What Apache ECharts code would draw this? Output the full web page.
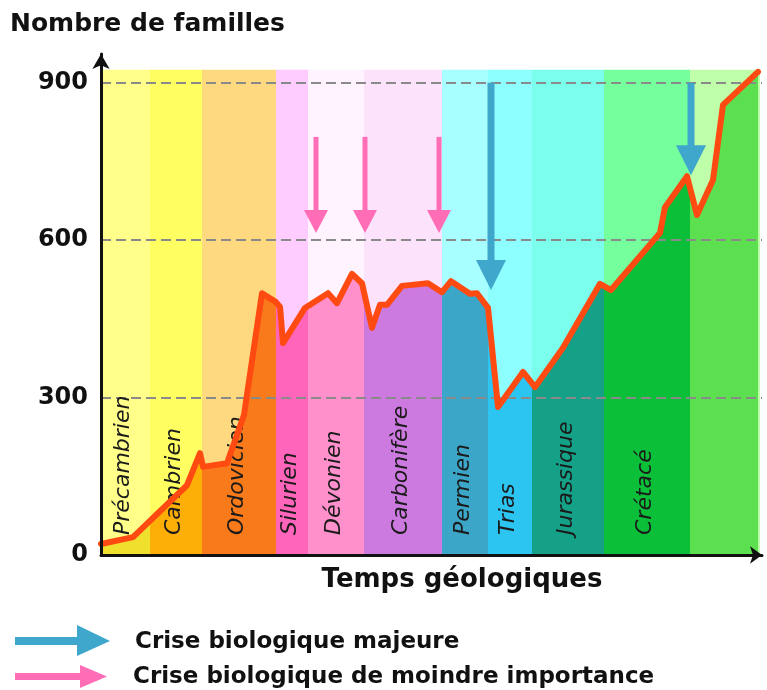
<!DOCTYPE html>
<html><head><meta charset="utf-8">
<script src="https://cdn.jsdelivr.net/npm/echarts@6/dist/echarts.min.js"></script>
<style>html,body{margin:0;padding:0;background:#fff}#c{width:767px;height:690px}</style>
</head><body><div id="c"></div>
<script>
// ---- data ----
const periods = ['Précambrien','Cambrien','Ordovicien','Silurien','Dévonien','Carbonifère','Permien','Trias','Jurassique','Crétacé',''];
const periodStart = [0, 49, 101, 175, 207, 263, 341, 387, 431, 503, 589];
const periodEnd   = [49, 101, 175, 207, 263, 341, 387, 431, 503, 589, 659];
const upperColors = ['#FFFF8A','#FFFF62','#FFD97F','#FFCCFF','#FEF3FE','#FDE2FB','#A8FFFF','#8EFFFF','#7BFFEC','#75FF9D','#BFFFAA'];
const lowerColors = ['#EEE02C','#FDAF08','#F87A1A','#FF66BB','#FF90CC','#CC7ADF','#3CA6C9','#2CC4F0','#15A088','#0BBF39','#5DE04F'];
const curveX = [0, 32, 86, 99, 102, 126, 143, 161, 175, 179, 182, 204, 227, 236, 251, 261, 271, 279, 286, 301, 327, 341, 350, 369, 376, 387, 397, 422, 434, 462, 499, 510, 559, 564, 586, 596, 612, 622, 657];
const curveY = [21, 34, 133, 194, 168, 175, 267, 499, 482, 473, 404, 471, 499, 480, 536, 518, 433, 477, 477, 513, 518, 501, 522, 498, 499, 471, 282, 349, 320, 395, 517, 505, 614, 663, 722, 648, 715, 858, 921];
const majorCrisisX = [390, 590];
const majorCrisisTop = [900, 900];
const majorCrisisTip = [505, 724];
const minorCrisisX = [215, 264, 338];
const minorCrisisTop = [797, 797, 797];
const minorCrisisTip = [614, 614, 614];
const yTicks = [0, 300, 600, 900];
const bandTop = 925;
const yMax = 955;
const xMax = 661;

// ---- chart ----
const chart = echarts.init(document.getElementById('c'), null, {renderer: 'canvas'});
const BOLD = '"DejaVu Sans", sans-serif';

const bandData = periodStart.map((s, i) => [s, periodEnd[i], i]);
const curveData = curveX.map((x, i) => [x, curveY[i]]);
const arrowData = majorCrisisX.map((x, i) => [x, majorCrisisTop[i], majorCrisisTip[i], 0])
  .concat(minorCrisisX.map((x, i) => [x, minorCrisisTop[i], minorCrisisTip[i], 1]));
const labelData = periods.map((p, i) => [(periodStart[i] + periodEnd[i]) / 2, i]);

const option = {
  animation: false,
  backgroundColor: '#ffffff',
  grid: {left: 101, right: 767 - 101 - xMax, top: 54, bottom: 135, containLabel: false},
  xAxis: {
    type: 'value', min: 0, max: xMax, z: 10,
    axisLine: {show: true, lineStyle: {color: '#111', width: 3}, symbol: ['none', 'arrow'], symbolSize: [13, 12]},
    axisTick: {show: false}, axisLabel: {show: false}, splitLine: {show: false}
  },
  yAxis: {
    type: 'value', min: 0, max: yMax, interval: 300, z: 10,
    axisLine: {show: true, lineStyle: {color: '#111', width: 3}, symbol: ['none', 'arrow'], symbolSize: [13, 15]},
    axisTick: {show: false}, splitLine: {show: false},
    axisLabel: {
      show: true, margin: 13, color: '#111', fontFamily: BOLD, fontWeight: 'bold', fontSize: 24,
      showMaxLabel: false,
      formatter: v => (yTicks.indexOf(v) >= 0 ? String(v) : '')
    }
  },
  visualMap: {
    show: false, type: 'piecewise', dimension: 0, seriesIndex: 1,
    pieces: periodStart.map((s, i) => (i === periodStart.length - 1
      ? {gte: s, lte: xMax, color: lowerColors[i]}
      : {gte: s, lt: periodEnd[i], color: lowerColors[i]}))
  },
  series: [
    {
      type: 'custom', z: 1, silent: true,
      data: bandData,
      encode: {x: [0, 1]},
      renderItem: (params, api) => {
        const i = api.value(2);
        const p0 = api.coord([api.value(0), bandTop]);
        const p1 = api.coord([api.value(1), 0]);
        return {type: 'rect', shape: {x: p0[0], y: p0[1], width: p1[0] - p0[0], height: p1[1] - p0[1]},
          style: {fill: upperColors[i]}};
      },
      markLine: {
        z: 3, silent: true, symbol: ['none', 'none'], label: {show: false},
        lineStyle: {color: '#8a8a8a', width: 2, type: [10, 5]},
        data: yTicks.filter(v => v > 0).map(v => ({yAxis: v}))
      }
    },
    {
      type: 'line', z: 2, silent: true, data: curveData, symbol: 'none', smooth: false,
      lineStyle: {width: 0, opacity: 0},
      areaStyle: {opacity: 1}
    },
    {
      type: 'line', z: 4, silent: true, data: curveData, symbol: 'none', smooth: false,
      lineStyle: {width: 6, color: '#FF4A12', join: 'round', cap: 'round'}
    },
    {
      type: 'custom', z: 6, silent: true, data: arrowData,
      renderItem: (params, api) => {
        const major = api.value(3) === 0;
        const top = api.coord([api.value(0), api.value(1)]);
        const tip = api.coord([api.value(0), api.value(2)]);
        const headLen = major ? 30 : 23;
        const headW = major ? 30 : 24;
        const shaftW = major ? 7 : 5;
        const color = major ? '#3FA7CB' : '#FF6DB6';
        const x = top[0];
        return {type: 'group', children: [
          {type: 'rect', shape: {x: x - shaftW / 2, y: top[1], width: shaftW, height: tip[1] - headLen - top[1] + 1}, style: {fill: color}},
          {type: 'polygon', shape: {points: [[x - headW / 2, tip[1] - headLen], [x + headW / 2, tip[1] - headLen], [x, tip[1]]]}, style: {fill: color}}
        ]};
      }
    },
    {
      type: 'custom', z: 3, silent: true, data: labelData,
      renderItem: (params, api) => {
        const i = api.value(1);
        const p = api.coord([api.value(0), 0]);
        return {type: 'text', x: p[0] - 2, y: p[1] - 20, rotation: Math.PI / 2,
          style: {text: periods[i], align: 'left', verticalAlign: 'middle',
            font: 'italic 22px "DejaVu Sans", sans-serif', fill: '#1a1a1a'}};
      }
    }
  ],
  graphic: [
    {type: 'text', x: 10, y: 24, style: {text: 'Nombre de familles', font: 'bold 25px ' + BOLD, fill: '#111', align: 'left', verticalAlign: 'middle'}},
    {type: 'text', x: 462, y: 580, style: {text: 'Temps géologiques', font: 'bold 26px ' + BOLD, fill: '#111', align: 'center', verticalAlign: 'middle'}},
    {type: 'rect', shape: {x: 15, y: 637, width: 64, height: 8}, style: {fill: '#3FA7CB'}},
    {type: 'polygon', shape: {points: [[77, 625], [110, 641], [77, 656]]}, style: {fill: '#3FA7CB'}},
    {type: 'rect', shape: {x: 15, y: 673, width: 67, height: 7}, style: {fill: '#FF6DB6'}},
    {type: 'polygon', shape: {points: [[80, 665], [107, 676.5], [80, 688]]}, style: {fill: '#FF6DB6'}},
    {type: 'text', x: 135, y: 642, style: {text: 'Crise biologique majeure', font: 'bold 23px ' + BOLD, fill: '#111', align: 'left', verticalAlign: 'middle'}},
    {type: 'text', x: 133, y: 677, style: {text: 'Crise biologique de moindre importance', font: 'bold 23px ' + BOLD, fill: '#111', align: 'left', verticalAlign: 'middle'}}
  ]
};
chart.setOption(option);
</script>
</body></html>
